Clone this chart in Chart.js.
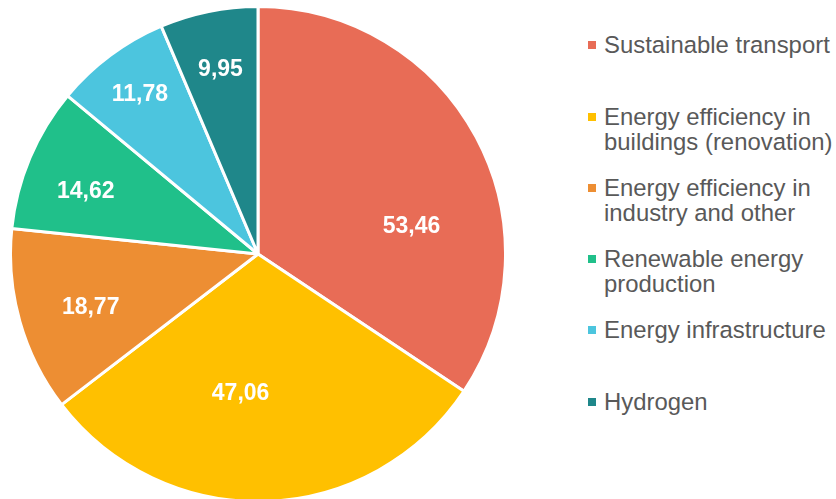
<!DOCTYPE html>
<html>
<head>
<meta charset="utf-8">
<script src="https://cdn.jsdelivr.net/npm/chart.js@4/dist/chart.umd.min.js"></script>
<style>
  html, body { margin: 0; padding: 0; background: #fff; overflow: hidden; }
  body { width: 836px; height: 499px; position: relative; font-family: "Liberation Sans", Arial, sans-serif; }
  #pieBox { position: absolute; left: 9px; top: 5px; width: 498px; height: 498px; }
  #legend { position: absolute; left: 588px; top: 0; }
  .item { position: absolute; left: 0; white-space: nowrap; color: #595959; font-size: 23.9px; line-height: 25px; }
  .item .box { position: absolute; left: 0; top: 9px; width: 8px; height: 8px; }
  .item .txt { position: absolute; left: 16px; top: 0; }
</style>
</head>
<body>
<div id="pieBox"><canvas id="pie"></canvas></div>
<div id="legend"></div>
<script>
// Chart data
const categories = [
  "Sustainable transport",
  "Energy efficiency in buildings (renovation)",
  "Energy efficiency in industry and other",
  "Renewable energy production",
  "Energy infrastructure",
  "Hydrogen",
];
const legendLines = [
  ["Sustainable transport"],
  ["Energy efficiency in", "buildings (renovation)"],
  ["Energy efficiency in", "industry and other"],
  ["Renewable energy", "production"],
  ["Energy infrastructure"],
  ["Hydrogen"],
];
const values = [53.46, 47.06, 18.77, 14.62, 11.78, 9.95];
const colors = ["#E86C56", "#FFC000", "#ED8E33", "#20C08A", "#4CC5DE", "#1F878A"];

// legend layout (top of first text line for each entry)
const legendTops = [32, 104, 175, 246, 317, 389];

const legend = document.getElementById("legend");
legendLines.forEach((lines, i) => {
  const div = document.createElement("div");
  div.className = "item";
  div.style.top = legendTops[i] + "px";
  div.innerHTML = `<span class="box" style="background:${colors[i]}"></span>
    <span class="txt">${lines.join("<br>")}</span>`;
  legend.appendChild(div);
});

// white bold value labels inside slices ("best fit" style placement)
const valueLabels = {
  id: "valueLabels",
  afterDatasetsDraw(chart, args, opts) {
    const ctx = chart.ctx;
    const meta = chart.getDatasetMeta(0);
    const nudges = opts.nudges || [];
    ctx.save();
    ctx.fillStyle = "#ffffff";
    ctx.font = "bold 23px 'Liberation Sans', Arial, sans-serif";
    ctx.textAlign = "center";
    ctx.textBaseline = "middle";
    meta.data.forEach((arc, i) => {
      const p = arc.getProps(["x", "y", "startAngle", "endAngle", "outerRadius"], true);
      const n = nudges[i] || { da: 0, rf: 0.7 };
      const mid = (p.startAngle + p.endAngle) / 2 + (n.da * Math.PI) / 180;
      const r = p.outerRadius * n.rf;
      const txt = values[i].toFixed(2).replace(".", ",");
      ctx.fillText(txt, p.x + Math.cos(mid) * r, p.y + Math.sin(mid) * r);
    });
    ctx.restore();
  },
};

new Chart(document.getElementById("pie").getContext("2d"), {
  type: "pie",
  data: {
    labels: categories,
    datasets: [
      {
        data: values,
        backgroundColor: colors,
        borderColor: "#ffffff",
        borderWidth: 3,
      },
    ],
  },
  options: {
    responsive: true,
    maintainAspectRatio: false,
    animation: false,
    layout: { padding: 0 },
    plugins: {
      legend: { display: false },
      tooltip: { enabled: false },
      valueLabels: {
        nudges: [
          { da: 18, rf: 0.63 },
          { da: 9, rf: 0.57 },
          { da: -2, rf: 0.71 },
          { da: -3, rf: 0.74 },
          { da: 0, rf: 0.8 },
          { da: 0, rf: 0.76 },
        ],
      },
    },
  },
  plugins: [valueLabels],
});
</script>
</body>
</html>
